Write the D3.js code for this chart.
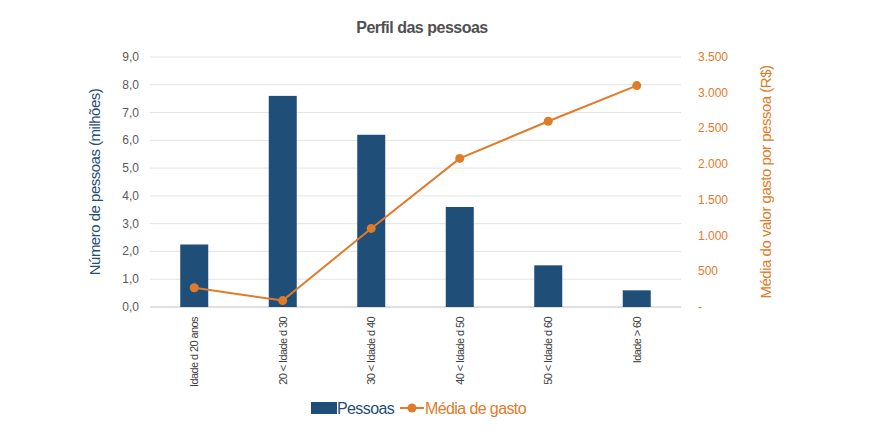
<!DOCTYPE html>
<html><head><meta charset="utf-8">
<script src="https://cdn.jsdelivr.net/npm/d3@7"></script>
<style>body{margin:0;background:#fff;font-family:"Liberation Sans",Arial,sans-serif}</style>
</head><body><svg id="c" width="888" height="447"></svg>
<script>
const categories = ["Idade d 20 anos", "20 < Idade d 30", "30 < Idade d 40", "40 < Idade d 50", "50 < Idade d 60", "Idade > 60"];
const pessoas = [2.25, 7.6, 6.2, 3.6, 1.5, 0.6];
const mediaGasto = [270, 90, 1100, 2080, 2600, 3100];
const leftTicks = [0, 1, 2, 3, 4, 5, 6, 7, 8, 9];
const rightTicks = [0, 500, 1000, 1500, 2000, 2500, 3000, 3500];

const blue = "#1f4e79", orange = "#e07b2a";
const svg = d3.select("#c");
const fmtL = d3.format(".1f");
const x = d3.scaleBand().domain(categories).range([150, 681]);
const yL = d3.scaleLinear().domain([0, 9]).range([307, 57]);
const yR = d3.scaleLinear().domain([0, 3500]).range([307, 57]);

// gridlines
svg.append("g").selectAll("line").data(leftTicks).join("line")
  .attr("x1", 150).attr("x2", 681)
  .attr("y1", d => yL(d)).attr("y2", d => yL(d))
  .attr("stroke", d => d === 0 ? "#bfbfbf" : "#e3e3e3").attr("stroke-width", 1);

// left axis labels
svg.append("g").selectAll("text").data(leftTicks).join("text")
  .attr("x", 139).attr("y", d => yL(d) + 4).attr("text-anchor", "end")
  .attr("fill", "#595959").style("font-size", "12px")
  .text(d => fmtL(d).replace(".", ","));

// right axis labels
svg.append("g").selectAll("text").data(rightTicks).join("text")
  .attr("x", 698).attr("y", d => yR(d) + 4)
  .attr("fill", orange).style("font-size", "12px")
  .text(d => d === 0 ? "-" : d3.format(",")(d).replace(",", "."));

// bars
svg.append("g").selectAll("rect").data(pessoas).join("rect")
  .attr("x", (d, i) => x(categories[i]) + x.bandwidth() / 2 - 14)
  .attr("width", 28)
  .attr("y", d => yL(d)).attr("height", d => yL(0) - yL(d))
  .attr("fill", blue);

// line
const cx = i => x(categories[i]) + x.bandwidth() / 2;
svg.append("path").datum(mediaGasto)
  .attr("fill", "none").attr("stroke", orange).attr("stroke-width", 2)
  .attr("d", d3.line().x((d, i) => cx(i)).y(d => yR(d)));
svg.append("g").selectAll("circle").data(mediaGasto).join("circle")
  .attr("cx", (d, i) => cx(i)).attr("cy", d => yR(d)).attr("r", 4.5)
  .attr("fill", orange);

// category labels
svg.append("g").selectAll("text").data(categories).join("text")
  .attr("transform", (d, i) => `translate(${cx(i) + 4},317) rotate(-90)`)
  .attr("text-anchor", "end").attr("fill", "#404040")
  .style("font-size", "11px").style("letter-spacing", "-0.6px")
  .text(d => d);

// title
svg.append("text").attr("x", 422).attr("y", 33).attr("text-anchor", "middle")
  .attr("fill", "#505050").style("font-size", "16px").style("font-weight", "bold")
  .style("letter-spacing", "-0.5px").text("Perfil das pessoas");

// axis titles
svg.append("text").attr("transform", "translate(100,182) rotate(-90)")
  .attr("text-anchor", "middle").attr("fill", blue).style("font-size", "15px")
  .style("letter-spacing", "-0.5px").text("Número de pessoas (milhões)");
svg.append("text").attr("transform", "translate(771,182) rotate(-90)")
  .attr("text-anchor", "middle").attr("fill", orange).style("font-size", "15px")
  .style("letter-spacing", "-0.5px").text("Média do valor gasto por pessoa (R$)");

// legend
const lg = svg.append("g");
lg.append("rect").attr("x", 311).attr("y", 402).attr("width", 26).attr("height", 12).attr("fill", blue);
lg.append("text").attr("x", 337).attr("y", 414).attr("fill", blue).style("font-size", "16px")
  .style("letter-spacing", "-0.6px").text("Pessoas");
lg.append("line").attr("x1", 400).attr("x2", 424).attr("y1", 408).attr("y2", 408)
  .attr("stroke", orange).attr("stroke-width", 2);
lg.append("circle").attr("cx", 412).attr("cy", 408).attr("r", 4.5).attr("fill", orange);
lg.append("text").attr("x", 425).attr("y", 414).attr("fill", orange).style("font-size", "16px")
  .style("letter-spacing", "-0.6px").text("Média de gasto");
</script></body></html>
